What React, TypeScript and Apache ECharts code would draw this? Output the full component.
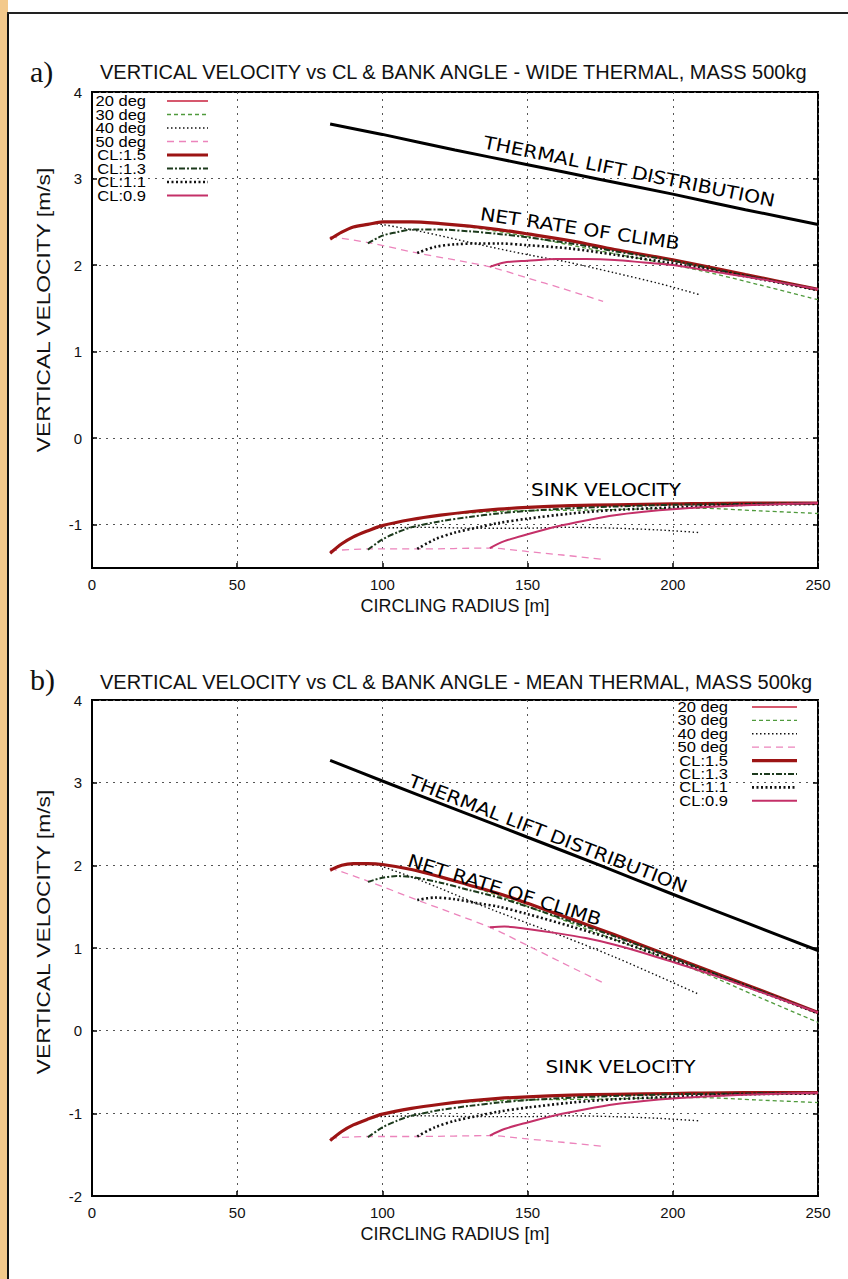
import React, { useEffect, useRef } from "react";
import * as echarts from "echarts";

// ---------- data ----------
const X_TICKS = [0, 50, 100, 150, 200, 250];
const Y_TICKS_A = [-1, 0, 1, 2, 3, 4];
const Y_TICKS_B = [-2, -1, 0, 1, 2, 3, 4];

const TITLE_A = "VERTICAL VELOCITY vs CL & BANK ANGLE - WIDE THERMAL, MASS 500kg";
const TITLE_B = "VERTICAL VELOCITY vs CL & BANK ANGLE - MEAN THERMAL, MASS 500kg";
const X_NAME = "CIRCLING RADIUS [m]";
const Y_NAME = "VERTICAL VELOCITY [m/s]";
const LABEL_LIFT = "THERMAL LIFT DISTRIBUTION";
const LABEL_NET = "NET RATE OF CLIMB";
const LABEL_SINK = "SINK VELOCITY";

const CURVE_NAMES = ["20 deg", "30 deg", "40 deg", "50 deg", "CL:1.5", "CL:1.3", "CL:1.1", "CL:0.9"];

// thermal lift distribution
const R_LIFT = [82, 100, 125, 150, 175, 200, 225, 250];
const LIFT_A = [3.63, 3.51, 3.33, 3.16, 2.99, 2.82, 2.64, 2.47];
const LIFT_B = [3.27, 3.02, 2.68, 2.34, 2.0, 1.65, 1.31, 0.97];

// constant bank angle curves
const R_D20 = [184, 212, 250];
const SINK_D20 = [-0.77, -0.76, -0.76];
const NET_A_D20 = [2.16, 1.97, 1.71];
const NET_B_D20 = [1.1, 0.73, 0.21];

const R_D30 = [126, 145, 171, 209, 230, 250];
const SINK_D30 = [-0.87, -0.84, -0.83, -0.81, -0.84, -0.87];
const NET_A_D30 = [2.46, 2.36, 2.19, 1.94, 1.77, 1.6];
const NET_B_D30 = [1.8, 1.57, 1.22, 0.72, 0.4, 0.1];

const R_D40 = [98, 113, 133, 150, 163, 180, 195, 209];
const SINK_D40 = [-1.04, -1.03, -1.04, -1.04, -1.03, -1.04, -1.06, -1.09];
const NET_A_D40 = [2.48, 2.39, 2.24, 2.12, 2.04, 1.91, 1.79, 1.66];
const NET_B_D40 = [2.01, 1.82, 1.53, 1.3, 1.13, 0.89, 0.66, 0.44];

const R_D50 = [82, 95, 112, 137, 150, 162, 176];
const SINK_D50 = [-1.3, -1.28, -1.28, -1.27, -1.31, -1.35, -1.4];
const NET_A_D50 = [2.33, 2.26, 2.14, 1.98, 1.85, 1.73, 1.58];
const NET_B_D50 = [1.97, 1.81, 1.58, 1.25, 1.03, 0.82, 0.58];

// constant CL curves
const R_CL15 = [82, 86, 90, 95, 100, 110, 120, 130, 140, 150, 165, 180, 200, 225, 250];
const SINK_CL15 = [-1.33, -1.22, -1.14, -1.07, -1.01, -0.94, -0.89, -0.85, -0.82, -0.8, -0.78, -0.77, -0.76, -0.75, -0.75];
const NET_A_CL15 = [2.3, 2.38, 2.44, 2.47, 2.5, 2.5, 2.48, 2.45, 2.41, 2.36, 2.28, 2.18, 2.06, 1.89, 1.72];
const NET_B_CL15 = [1.94, 2.0, 2.02, 2.02, 2.01, 1.95, 1.86, 1.76, 1.66, 1.54, 1.35, 1.16, 0.89, 0.56, 0.22];

const R_CL13 = [95, 100, 105, 110, 120, 130, 140, 150, 165, 180, 200, 225, 250];
const SINK_CL13 = [-1.29, -1.17, -1.09, -1.03, -0.96, -0.91, -0.87, -0.84, -0.81, -0.79, -0.77, -0.76, -0.75];
const NET_A_CL13 = [2.25, 2.34, 2.38, 2.41, 2.41, 2.39, 2.36, 2.32, 2.25, 2.16, 2.05, 1.88, 1.72];
const NET_B_CL13 = [1.8, 1.85, 1.87, 1.86, 1.79, 1.7, 1.61, 1.5, 1.32, 1.14, 0.88, 0.55, 0.22];

const R_CL11 = [112, 118, 125, 133, 140, 150, 165, 180, 200, 225, 250];
const SINK_CL11 = [-1.28, -1.17, -1.09, -1.03, -0.98, -0.93, -0.87, -0.83, -0.8, -0.77, -0.76];
const NET_A_CL11 = [2.14, 2.21, 2.24, 2.25, 2.25, 2.23, 2.19, 2.12, 2.02, 1.87, 1.71];
const NET_B_CL11 = [1.58, 1.61, 1.59, 1.54, 1.5, 1.41, 1.26, 1.1, 0.85, 0.54, 0.21];

const R_CL09 = [137, 142, 150, 160, 170, 180, 190, 200, 215, 230, 250];
const SINK_CL09 = [-1.27, -1.19, -1.11, -1.02, -0.95, -0.89, -0.85, -0.82, -0.79, -0.77, -0.75];
const NET_A_CL09 = [1.98, 2.03, 2.05, 2.07, 2.07, 2.06, 2.03, 2.0, 1.92, 1.84, 1.72];
const NET_B_CL09 = [1.25, 1.26, 1.23, 1.18, 1.12, 1.04, 0.94, 0.83, 0.66, 0.47, 0.22];

// annotation anchors (data coordinates)
const ANCHOR_LIFT_A = [185, 3.08];
const ANCHOR_NET_A = [168, 2.42];
const ANCHOR_SINK_A = [177, -0.6];
const ANCHOR_LIFT_B = [157, 2.38];
const ANCHOR_NET_B = [142, 1.7];
const ANCHOR_SINK_B = [182, -0.44];

// ---------- styles ----------
const STYLES: Record<string, { color: string; width: number; type: any }> = {
  "20 deg": { color: "#c8203c", width: 1.3, type: "solid" },
  "30 deg": { color: "#4f9a3c", width: 1.3, type: [4, 3] },
  "40 deg": { color: "#111111", width: 1.4, type: [1.5, 2.5] },
  "50 deg": { color: "#ec84bc", width: 1.3, type: [7, 5] },
  "CL:1.5": { color: "#9c1414", width: 3.2, type: "solid" },
  "CL:1.3": { color: "#1c3a1c", width: 2, type: [6, 2, 2, 2] },
  "CL:1.1": { color: "#111111", width: 2.6, type: [2, 2.5] },
  "CL:0.9": { color: "#c43068", width: 2, type: "solid" },
};

const CURVES = [
  { name: "20 deg", r: R_D20, sink: SINK_D20, netA: NET_A_D20, netB: NET_B_D20 },
  { name: "30 deg", r: R_D30, sink: SINK_D30, netA: NET_A_D30, netB: NET_B_D30 },
  { name: "40 deg", r: R_D40, sink: SINK_D40, netA: NET_A_D40, netB: NET_B_D40 },
  { name: "50 deg", r: R_D50, sink: SINK_D50, netA: NET_A_D50, netB: NET_B_D50 },
  { name: "CL:1.5", r: R_CL15, sink: SINK_CL15, netA: NET_A_CL15, netB: NET_B_CL15 },
  { name: "CL:1.3", r: R_CL13, sink: SINK_CL13, netA: NET_A_CL13, netB: NET_B_CL13 },
  { name: "CL:1.1", r: R_CL11, sink: SINK_CL11, netA: NET_A_CL11, netB: NET_B_CL11 },
  { name: "CL:0.9", r: R_CL09, sink: SINK_CL09, netA: NET_A_CL09, netB: NET_B_CL09 },
];

const W = 848;
const H = 1279;
const GRID_A = { left: 92, top: 92, width: 726, height: 476 };
const GRID_B = { left: 92, top: 700, width: 726, height: 496 };
const FONT = '"Liberation Sans", Arial, sans-serif';
const ANNOT_FONT = '"DejaVu Sans", sans-serif';

const pts = (xs: number[], ys: number[]) => xs.map((x, i) => [x, ys[i]]);

function panelSeries(idx: number, lift: number[], key: "netA" | "netB") {
  const s: any[] = [];
  s.push({
    type: "line",
    xAxisIndex: idx,
    yAxisIndex: idx,
    data: pts(R_LIFT, lift),
    symbol: "none",
    smooth: 0.2,
    silent: true,
    lineStyle: { color: "#000", width: 3 },
  });
  CURVES.forEach((c) => {
    const st = STYLES[c.name];
    [c[key], c.sink].forEach((vals) =>
      s.push({
        type: "line",
        name: c.name,
        xAxisIndex: idx,
        yAxisIndex: idx,
        data: pts(c.r, vals),
        symbol: "none",
        smooth: 0.3,
        silent: true,
        lineStyle: { color: st.color, width: st.width, type: st.type },
      })
    );
  });
  return s;
}

function xAxis(gridIndex: number) {
  return {
    type: "value",
    gridIndex,
    min: 0,
    max: 250,
    interval: 50,
    name: X_NAME,
    nameLocation: "middle",
    nameGap: 29,
    nameTextStyle: { fontSize: 18, color: "#111", fontFamily: FONT },
    axisLine: { show: true, onZero: false, lineStyle: { color: "#000", width: 2 } },
    axisTick: { show: true, inside: true, length: 5, lineStyle: { color: "#000", width: 1.5 } },
    axisLabel: { fontSize: 15, color: "#111", fontFamily: FONT, margin: 9, customValues: X_TICKS },
    splitLine: { show: true, lineStyle: { color: "#555", width: 1, type: [2, 5] } },
  };
}

function yAxis(gridIndex: number, min: number, max: number, ticks: number[], right = false) {
  return {
    type: "value",
    gridIndex,
    min,
    max,
    position: right ? "right" : "left",
    axisLine: { show: !right, onZero: false, lineStyle: { color: "#000", width: 2 } },
    axisTick: { show: true, inside: true, length: 5, customValues: ticks, lineStyle: { color: "#000", width: 1.5 } },
    axisLabel: { show: !right, fontSize: 15, color: "#111", fontFamily: FONT, margin: 10, customValues: ticks },
    splitLine: { show: !right, lineStyle: { color: "#555", width: 1, type: [2, 5] } },
  };
}

function legendGraphics(textRight: number, lx0: number, lx1: number, y0: number, dy: number) {
  const els: any[] = [];
  CURVE_NAMES.forEach((name, i) => {
    const st = STYLES[name];
    const y = y0 + i * dy;
    els.push({
      type: "text",
      x: textRight,
      y,
      scaleX: 1.18,
      silent: true,
      style: { text: name, font: `14px ${FONT}`, lineHeight: 13, fill: "#000", align: "right", verticalAlign: "middle" },
    });
    els.push({
      type: "line",
      silent: true,
      shape: { x1: lx0, y1: y, x2: lx1, y2: y },
      style: { stroke: st.color, lineWidth: st.width, lineDash: Array.isArray(st.type) ? st.type : null },
    });
  });
  return els;
}

export default function App() {
  const ref = useRef<HTMLDivElement>(null);

  useEffect(() => {
    if (!ref.current) return;
    const chart = echarts.init(ref.current, undefined, { renderer: "svg" });

    const titleStyle = { fontSize: 20, fontWeight: "normal", color: "#111", fontFamily: FONT };
    const option: any = {
      animation: false,
      backgroundColor: "#ffffff",
      title: [
        { text: TITLE_A, left: 100, top: 62, padding: 0, textStyle: titleStyle },
        { text: TITLE_B, left: 100, top: 672, padding: 0, textStyle: titleStyle },
        { text: "a)", left: 30, top: 56, padding: 0, textStyle: { fontSize: 30, fontWeight: "normal", color: "#111", fontFamily: '"Liberation Serif", serif' } },
        { text: "b)", left: 30, top: 664, padding: 0, textStyle: { fontSize: 30, fontWeight: "normal", color: "#111", fontFamily: '"Liberation Serif", serif' } },
      ],
      grid: [
        { ...GRID_A, show: true, borderColor: "#000", borderWidth: 2, backgroundColor: "#fff" },
        { ...GRID_B, show: true, borderColor: "#000", borderWidth: 2, backgroundColor: "#fff" },
      ],
      xAxis: [xAxis(0), xAxis(1)],
      yAxis: [
        yAxis(0, -1.5, 4, Y_TICKS_A),
        yAxis(1, -2, 4, Y_TICKS_B),
        yAxis(0, -1.5, 4, Y_TICKS_A, true),
        yAxis(1, -2, 4, Y_TICKS_B, true),
      ],
      series: [...panelSeries(0, LIFT_A, "netA"), ...panelSeries(1, LIFT_B, "netB")],
    };
    chart.setOption(option);

    const angleOf = (gi: number, xs: number[], ys: number[], i0: number, i1: number) => {
      const p0 = chart.convertToPixel({ gridIndex: gi }, [xs[i0], ys[i0]]) as number[];
      const p1 = chart.convertToPixel({ gridIndex: gi }, [xs[i1], ys[i1]]) as number[];
      return Math.atan2(p1[1] - p0[1], p1[0] - p0[0]);
    };
    const annot = (gi: number, anchor: number[], text: string, angle: number, size: number, sx: number) => {
      const p = chart.convertToPixel({ gridIndex: gi }, anchor) as number[];
      return {
        type: "text",
        x: p[0],
        y: p[1],
        rotation: -angle,
        scaleX: sx,
        silent: true,
        z: 100,
        style: { text, font: `${size}px ${ANNOT_FONT}`, fill: "#000", align: "center", verticalAlign: "middle" },
      };
    };
    const yName = (cy: number) => ({
      type: "text",
      x: 43,
      y: cy,
      rotation: Math.PI / 2,
      scaleX: 1.2,
      silent: true,
      style: { text: Y_NAME, font: `19px ${FONT}`, fill: "#111", align: "center", verticalAlign: "middle" },
    });

    const liftAngA = angleOf(0, R_LIFT, LIFT_A, 3, 5);
    const liftAngB = angleOf(1, R_LIFT, LIFT_B, 2, 4);
    const netAngA = angleOf(0, R_CL15, NET_A_CL15, 6, 11);
    const netAngB = angleOf(1, R_CL15, NET_B_CL15, 5, 10);

    const frame = [
      { type: "rect", silent: true, shape: { x: 0, y: 0, width: 8, height: H }, style: { fill: "#f3c98b" } },
      { type: "rect", silent: true, shape: { x: 7, y: 12, width: 2, height: H - 12 }, style: { fill: "#111" } },
      { type: "rect", silent: true, shape: { x: 7, y: 12, width: W - 7, height: 2 }, style: { fill: "#222" } },
    ];

    chart.setOption({
      graphic: [
        ...frame,
        yName(310),
        yName(932),
        ...legendGraphics(GRID_A.left + 54, GRID_A.left + 75, GRID_A.left + 116, GRID_A.top + 9, 13.5),
        ...legendGraphics(GRID_B.left + GRID_B.width - 90, GRID_B.left + GRID_B.width - 66, GRID_B.left + GRID_B.width - 21, GRID_B.top + 7, 13.4),
        annot(0, ANCHOR_LIFT_A, LABEL_LIFT, liftAngA, 18, 1.13),
        annot(0, ANCHOR_NET_A, LABEL_NET, netAngA, 18, 1.13),
        annot(0, ANCHOR_SINK_A, LABEL_SINK, 0, 17, 1.18),
        annot(1, ANCHOR_LIFT_B, LABEL_LIFT, liftAngB, 18, 1.13),
        annot(1, ANCHOR_NET_B, LABEL_NET, netAngB, 18, 1.13),
        annot(1, ANCHOR_SINK_B, LABEL_SINK, 0, 17, 1.18),
      ],
    });

    return () => chart.dispose();
  }, []);

  return (
    <div
      ref={ref}
      style={{ position: "absolute", left: 0, top: 0, width: W, height: H, background: "#fff" }}
    />
  );
}
